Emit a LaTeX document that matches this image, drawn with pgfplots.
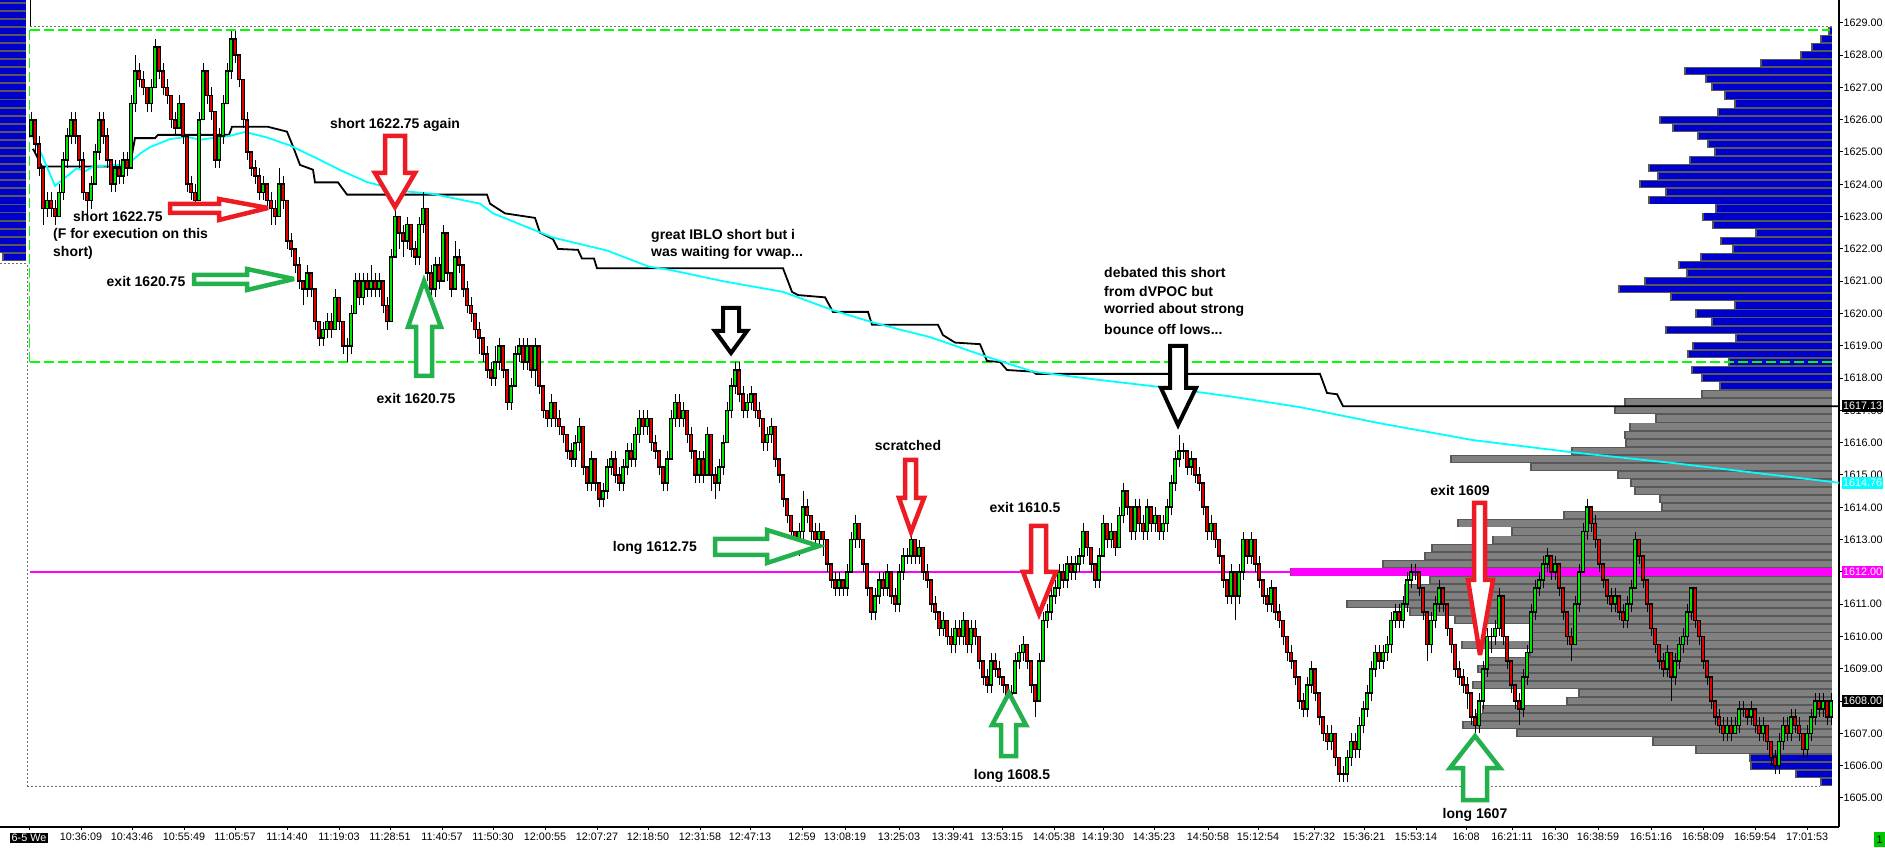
\documentclass[border=0pt]{standalone}
\usepackage{pgfplots}
\pgfplotsset{compat=1.18}
\usepackage{pgfplotstable}
\usepackage{fontspec}
\setmainfont{Liberation Sans}
\definecolor{upg}{RGB}{0,230,0}
\definecolor{dnr}{RGB}{225,0,0}
\definecolor{pblue}{RGB}{0,0,204}
\definecolor{pgray}{RGB}{128,128,128}
\definecolor{pedge}{RGB}{88,88,88}
\definecolor{vwap}{RGB}{0,255,255}
\definecolor{mag}{RGB}{255,0,255}
\definecolor{lgreen}{RGB}{0,255,0}
\definecolor{ared}{RGB}{237,28,36}
\definecolor{agreen}{RGB}{34,177,76}
\definecolor{dotg}{RGB}{110,110,110}
\definecolor{boxg}{RGB}{0,200,0}
\newcommand{\annot}{\bfseries\fontsize{14}{16}\selectfont}
\newcommand{\tickf}{\fontsize{10.8}{12}\selectfont}

\pgfplotstableread{
x o c h l
31 1625.5 1626.0 1626.25 1625.5
35 1626.0 1625.25 1626.0 1625.0
39 1625.25 1624.5 1625.5 1624.25
43 1624.5 1623.25 1624.5 1622.75
47 1623.25 1623.5 1623.75 1623.0
51 1623.5 1623.25 1623.75 1623.0
55 1623.25 1623.0 1623.5 1622.75
59 1623.0 1623.75 1624.0 1623.0
63 1623.75 1624.75 1625.0 1623.5
67 1624.75 1625.5 1625.75 1624.5
71 1625.5 1626.0 1626.25 1625.25
75 1626.0 1625.5 1626.25 1625.25
79 1625.5 1624.75 1625.5 1624.5
83 1624.75 1623.75 1625.0 1623.5
87 1623.75 1623.5 1623.75 1623.0
91 1623.5 1624.0 1624.25 1623.25
95 1624.0 1625.0 1625.25 1624.0
99 1625.0 1626.0 1626.25 1624.75
103 1626.0 1625.5 1626.25 1625.25
107 1625.5 1624.75 1625.75 1624.5
111 1624.75 1624.0 1624.75 1623.75
115 1624.0 1624.5 1624.75 1623.75
119 1624.5 1624.25 1624.75 1624.0
123 1624.25 1624.75 1625.0 1624.0
127 1624.75 1624.5 1625.0 1624.25
131 1624.5 1626.5 1626.75 1624.5
135 1626.5 1627.5 1628.0 1626.25
139 1627.5 1627.25 1627.75 1627.0
143 1627.25 1627.0 1627.5 1626.75
147 1627.0 1626.5 1627.0 1626.25
151 1626.5 1627.0 1627.25 1626.25
155 1627.0 1628.25 1628.5 1627.0
159 1628.25 1627.5 1628.25 1627.25
163 1627.5 1627.0 1627.75 1626.75
167 1627.0 1626.75 1627.25 1626.5
171 1626.75 1626.0 1626.75 1625.75
175 1626.0 1625.75 1626.25 1625.5
179 1625.75 1626.5 1626.75 1625.75
183 1626.5 1625.5 1626.5 1625.25
187 1625.5 1624.0 1625.5 1623.75
191 1624.0 1623.75 1624.25 1623.5
195 1623.75 1623.5 1624.0 1623.25
199 1623.5 1626.0 1626.25 1623.5
203 1626.0 1627.5 1627.75 1626.0
207 1627.5 1626.75 1627.5 1626.5
211 1626.75 1626.25 1627.0 1626.0
215 1626.25 1624.75 1626.25 1624.5
219 1624.75 1625.5 1625.75 1624.5
223 1625.5 1626.5 1626.75 1625.25
227 1626.5 1627.5 1627.75 1626.5
231 1627.5 1628.5 1628.75 1627.25
235 1628.5 1628.0 1628.75 1627.75
239 1628.0 1627.25 1628.0 1627.0
243 1627.25 1626.0 1627.25 1625.75
247 1626.0 1625.0 1626.25 1624.75
251 1625.0 1624.5 1625.0 1624.25
255 1624.5 1624.25 1624.75 1624.0
259 1624.25 1623.75 1624.5 1623.5
263 1623.75 1624.0 1624.25 1623.5
267 1624.0 1623.5 1624.0 1623.25
271 1623.5 1623.25 1623.75 1622.75
275 1623.25 1623.0 1623.5 1622.75
279 1623.0 1624.0 1624.5 1623.0
283 1624.0 1623.5 1624.25 1623.25
287 1623.5 1622.25 1623.5 1622.0
291 1622.25 1622.0 1622.5 1621.75
295 1622.0 1621.5 1622.0 1621.25
299 1621.5 1621.0 1621.75 1620.75
303 1621.0 1620.75 1621.0 1620.25
307 1620.75 1621.25 1621.5 1620.5
311 1621.25 1620.75 1621.25 1620.5
315 1620.75 1619.75 1620.75 1619.5
319 1619.75 1619.25 1619.75 1619.0
323 1619.25 1619.5 1619.75 1619.0
327 1619.5 1619.75 1620.0 1619.25
331 1619.75 1619.5 1620.0 1619.25
335 1619.5 1620.5 1620.75 1619.5
339 1620.5 1619.75 1620.5 1619.5
343 1619.75 1619.0 1619.75 1618.75
347 1619.0 1619.0 1619.25 1618.5
351 1619.0 1620.0 1620.25 1618.75
355 1620.0 1621.0 1621.25 1620.0
359 1621.0 1620.5 1621.25 1620.25
363 1620.5 1621.0 1621.25 1620.25
367 1621.0 1620.75 1621.25 1620.5
371 1620.75 1621.0 1621.5 1620.5
375 1621.0 1620.75 1621.25 1620.5
379 1620.75 1621.0 1621.25 1620.5
383 1621.0 1620.25 1621.0 1620.0
387 1620.25 1619.75 1620.5 1619.5
391 1619.75 1621.75 1622.0 1619.75
395 1621.75 1623.0 1623.25 1621.75
399 1623.0 1622.5 1623.0 1622.0
403 1622.5 1622.25 1622.75 1621.75
407 1622.25 1622.75 1623.0 1622.0
411 1622.75 1622.0 1622.75 1621.75
415 1622.0 1621.75 1622.25 1621.5
419 1621.75 1622.75 1623.0 1621.5
423 1622.75 1623.25 1623.75 1622.5
427 1623.25 1621.25 1623.25 1621.0
431 1621.25 1620.75 1621.5 1620.5
435 1620.75 1621.5 1621.75 1620.5
439 1621.5 1621.0 1621.75 1620.75
443 1621.0 1622.5 1622.75 1621.0
447 1622.5 1621.25 1622.5 1621.0
451 1621.25 1620.75 1621.25 1620.5
455 1620.75 1621.75 1622.25 1620.75
459 1621.75 1621.5 1622.0 1621.25
463 1621.5 1620.75 1621.5 1620.5
467 1620.75 1620.25 1621.0 1620.0
471 1620.25 1620.0 1620.5 1619.75
475 1620.0 1619.5 1620.0 1619.25
479 1619.5 1619.25 1619.75 1618.75
483 1619.25 1618.75 1619.25 1618.5
487 1618.75 1618.25 1619.0 1618.0
491 1618.25 1618.0 1618.5 1617.75
495 1618.0 1618.5 1619.0 1617.75
499 1618.5 1619.0 1619.25 1618.25
503 1619.0 1618.25 1619.0 1618.0
507 1618.25 1617.25 1618.25 1617.0
511 1617.25 1617.75 1618.0 1617.0
515 1617.75 1618.75 1619.0 1617.75
519 1618.75 1619.0 1619.25 1618.5
523 1619.0 1618.5 1619.25 1618.25
527 1618.5 1619.0 1619.25 1618.25
531 1619.0 1618.25 1619.0 1618.0
535 1618.25 1619.0 1619.25 1617.75
539 1619.0 1617.75 1619.0 1617.5
543 1617.75 1617.0 1617.75 1616.75
547 1617.0 1616.75 1617.0 1616.5
551 1616.75 1617.25 1617.5 1616.5
555 1617.25 1616.75 1617.25 1616.5
559 1616.75 1616.5 1617.0 1616.25
563 1616.5 1616.25 1616.5 1616.0
567 1616.25 1615.75 1616.25 1615.5
571 1615.75 1615.5 1616.0 1615.25
575 1615.5 1616.0 1616.25 1615.25
579 1616.0 1616.5 1616.75 1615.75
583 1616.5 1615.25 1616.5 1615.0
587 1615.25 1614.75 1615.25 1614.5
591 1614.75 1615.5 1615.75 1614.5
595 1615.5 1614.75 1615.5 1614.5
599 1614.75 1614.25 1614.75 1614.0
603 1614.25 1614.5 1614.75 1614.0
607 1614.5 1615.25 1615.5 1614.25
611 1615.25 1615.5 1615.75 1615.0
615 1615.5 1615.0 1615.75 1614.75
619 1615.0 1614.75 1615.25 1614.5
623 1614.75 1615.25 1615.5 1614.5
627 1615.25 1615.75 1616.0 1615.0
631 1615.75 1615.5 1616.0 1615.25
635 1615.5 1616.25 1616.5 1615.25
639 1616.25 1616.75 1617.0 1616.0
643 1616.75 1616.5 1617.0 1616.25
647 1616.5 1616.75 1617.0 1616.25
651 1616.75 1616.0 1616.75 1615.75
655 1616.0 1615.75 1616.25 1615.5
659 1615.75 1615.25 1615.75 1615.0
663 1615.25 1614.75 1615.25 1614.5
667 1614.75 1615.5 1615.75 1614.5
671 1615.5 1616.75 1617.0 1615.5
675 1616.75 1617.25 1617.5 1616.5
679 1617.25 1616.75 1617.5 1616.5
683 1616.75 1617.0 1617.25 1616.5
687 1617.0 1616.25 1617.0 1616.0
691 1616.25 1615.75 1616.5 1615.5
695 1615.75 1615.0 1615.75 1614.75
699 1615.0 1615.5 1615.75 1614.75
703 1615.5 1615.0 1615.75 1614.75
707 1615.0 1616.25 1616.5 1615.0
711 1616.25 1615.0 1616.25 1614.5
715 1615.0 1614.75 1615.25 1614.25
719 1614.75 1615.25 1615.5 1614.5
723 1615.25 1616.0 1616.25 1615.0
727 1616.0 1617.0 1617.25 1616.0
731 1617.0 1617.75 1618.0 1616.75
735 1617.75 1618.25 1618.5 1617.5
739 1618.25 1617.5 1618.5 1617.25
743 1617.5 1617.0 1617.75 1616.75
747 1617.0 1617.25 1617.5 1616.75
751 1617.25 1617.5 1617.75 1617.0
755 1617.5 1617.0 1617.5 1616.75
759 1617.0 1616.75 1617.25 1616.5
763 1616.75 1616.0 1616.75 1615.75
767 1616.0 1616.25 1616.5 1615.75
771 1616.25 1616.5 1616.75 1616.0
775 1616.5 1615.5 1616.5 1615.25
779 1615.5 1615.0 1615.5 1614.75
783 1615.0 1614.25 1615.0 1614.0
787 1614.25 1613.75 1614.25 1613.5
791 1613.75 1613.25 1613.75 1613.0
795 1613.25 1612.75 1613.25 1612.5
799 1612.75 1613.25 1613.5 1612.5
803 1613.25 1614.0 1614.5 1613.0
807 1614.0 1613.75 1614.25 1613.5
811 1613.75 1613.25 1613.75 1613.0
815 1613.25 1613.0 1613.5 1612.75
819 1613.0 1613.25 1613.5 1612.75
823 1613.25 1613.0 1613.25 1612.5
827 1613.0 1612.25 1613.0 1612.0
831 1612.25 1611.75 1612.25 1611.5
835 1611.75 1611.5 1612.0 1611.25
839 1611.5 1611.75 1612.0 1611.25
843 1611.75 1611.5 1611.75 1611.25
847 1611.5 1612.0 1612.25 1611.25
851 1612.0 1613.0 1613.25 1612.0
855 1613.0 1613.5 1613.75 1612.75
859 1613.5 1613.0 1613.5 1612.75
863 1613.0 1612.25 1613.0 1612.0
867 1612.25 1611.5 1612.25 1611.25
871 1611.5 1610.75 1611.5 1610.5
875 1610.75 1611.25 1611.5 1610.5
879 1611.25 1611.75 1612.0 1611.0
883 1611.75 1611.5 1612.0 1611.25
887 1611.5 1612.0 1612.25 1611.25
891 1612.0 1611.25 1612.0 1611.0
895 1611.25 1611.0 1611.5 1610.75
899 1611.0 1612.0 1612.25 1610.75
903 1612.0 1612.5 1612.75 1611.75
907 1612.5 1612.5 1612.75 1612.25
911 1612.5 1613.0 1613.25 1612.25
915 1613.0 1612.5 1613.0 1612.25
919 1612.5 1612.75 1613.0 1612.25
923 1612.75 1612.0 1612.75 1611.75
927 1612.0 1611.75 1612.25 1611.5
931 1611.75 1611.0 1611.75 1610.75
935 1611.0 1610.75 1611.25 1610.5
939 1610.75 1610.25 1610.75 1610.0
943 1610.25 1610.5 1610.75 1610.0
947 1610.5 1610.0 1610.5 1609.75
951 1610.0 1609.75 1610.25 1609.5
955 1609.75 1610.25 1610.5 1609.5
959 1610.25 1610.0 1610.5 1609.75
963 1610.0 1610.5 1610.75 1609.75
967 1610.5 1609.75 1610.5 1609.5
971 1609.75 1610.25 1610.5 1609.5
975 1610.25 1610.0 1610.5 1609.75
979 1610.0 1609.25 1610.0 1609.0
983 1609.25 1608.75 1609.25 1608.5
987 1608.75 1608.5 1609.0 1608.25
991 1608.5 1609.25 1609.5 1608.25
995 1609.25 1609.0 1609.5 1608.75
999 1609.0 1608.75 1609.25 1608.5
1003 1608.75 1608.5 1608.75 1608.25
1007 1608.5 1608.0 1608.5 1607.75
1011 1608.0 1608.25 1608.5 1607.75
1015 1608.25 1609.25 1609.5 1608.25
1019 1609.25 1609.5 1609.75 1609.0
1023 1609.5 1609.75 1610.0 1609.25
1027 1609.75 1609.25 1609.75 1609.0
1031 1609.25 1608.5 1609.25 1608.25
1035 1608.5 1608.0 1608.5 1607.5
1039 1608.0 1609.25 1609.5 1608.0
1043 1609.25 1610.5 1610.75 1609.25
1047 1610.5 1610.75 1611.0 1610.25
1051 1610.75 1611.25 1611.5 1610.5
1055 1611.25 1611.5 1611.75 1611.0
1059 1611.5 1612.0 1612.25 1611.25
1063 1612.0 1611.75 1612.25 1611.5
1067 1611.75 1612.25 1612.5 1611.5
1071 1612.25 1612.0 1612.5 1611.75
1075 1612.0 1612.25 1612.5 1611.75
1079 1612.25 1612.5 1612.75 1612.0
1083 1612.5 1613.25 1613.5 1612.25
1087 1613.25 1612.75 1613.25 1612.5
1091 1612.75 1612.25 1612.75 1612.0
1095 1612.25 1611.75 1612.25 1611.5
1099 1611.75 1612.5 1612.75 1611.5
1103 1612.5 1613.5 1613.75 1612.5
1107 1613.5 1613.0 1613.5 1612.75
1111 1613.0 1613.25 1613.5 1612.75
1115 1613.25 1612.75 1613.25 1612.5
1119 1612.75 1613.75 1614.0 1612.75
1123 1613.75 1614.5 1614.75 1613.5
1127 1614.5 1614.0 1614.5 1613.75
1131 1614.0 1613.25 1614.0 1613.0
1135 1613.25 1614.0 1614.25 1613.0
1139 1614.0 1613.5 1614.25 1613.25
1143 1613.5 1613.25 1613.75 1613.0
1147 1613.25 1614.0 1614.25 1613.0
1151 1614.0 1613.5 1614.0 1613.25
1155 1613.5 1613.75 1614.0 1613.25
1159 1613.75 1613.25 1613.75 1613.0
1163 1613.25 1613.5 1613.75 1613.0
1167 1613.5 1614.0 1614.25 1613.25
1171 1614.0 1614.75 1615.0 1613.75
1175 1614.75 1615.5 1615.75 1614.5
1179 1615.5 1615.75 1616.25 1615.25
1183 1615.75 1615.75 1616.0 1615.5
1187 1615.75 1615.25 1615.75 1615.0
1191 1615.25 1615.5 1615.75 1615.0
1195 1615.5 1615.0 1615.5 1614.75
1199 1615.0 1614.75 1615.25 1614.5
1203 1614.75 1614.0 1614.75 1613.75
1207 1614.0 1613.25 1614.0 1613.0
1211 1613.25 1613.5 1613.75 1613.0
1215 1613.5 1613.0 1613.5 1612.75
1219 1613.0 1612.5 1613.0 1612.25
1223 1612.5 1611.75 1612.5 1611.5
1227 1611.75 1611.25 1611.75 1611.0
1231 1611.25 1612.0 1612.25 1611.0
1235 1612.0 1611.25 1612.0 1610.5
1239 1611.25 1612.0 1612.25 1611.0
1243 1612.0 1613.0 1613.25 1611.75
1247 1613.0 1612.5 1613.0 1612.25
1251 1612.5 1613.0 1613.25 1612.25
1255 1613.0 1612.25 1613.0 1612.0
1259 1612.25 1611.75 1612.5 1611.5
1263 1611.75 1611.25 1611.75 1611.0
1267 1611.25 1611.0 1611.5 1610.75
1271 1611.0 1611.5 1611.75 1610.75
1275 1611.5 1610.75 1611.5 1610.5
1279 1610.75 1610.5 1611.0 1610.25
1283 1610.5 1610.0 1610.5 1609.75
1287 1610.0 1609.5 1610.0 1609.25
1291 1609.5 1609.25 1609.75 1609.0
1295 1609.25 1608.75 1609.25 1608.5
1299 1608.75 1608.0 1608.75 1607.75
1303 1608.0 1607.75 1608.25 1607.5
1307 1607.75 1608.5 1608.75 1607.5
1311 1608.5 1609.0 1609.25 1608.25
1315 1609.0 1608.25 1609.0 1608.0
1319 1608.25 1607.5 1608.25 1607.25
1323 1607.5 1607.0 1607.5 1606.75
1327 1607.0 1606.75 1607.25 1606.5
1331 1606.75 1607.0 1607.25 1606.5
1335 1607.0 1606.25 1607.0 1606.0
1339 1606.25 1605.75 1606.25 1605.5
1343 1605.75 1605.75 1606.0 1605.5
1347 1605.75 1606.25 1606.5 1605.5
1351 1606.25 1606.75 1607.0 1606.0
1355 1606.75 1606.5 1607.0 1606.25
1359 1606.5 1607.25 1607.5 1606.25
1363 1607.25 1607.75 1608.0 1607.0
1367 1607.75 1608.25 1608.5 1607.5
1371 1608.25 1609.0 1609.25 1608.0
1375 1609.0 1609.5 1609.75 1608.75
1379 1609.5 1609.25 1609.75 1609.0
1383 1609.25 1609.5 1609.75 1609.0
1387 1609.5 1609.75 1610.0 1609.25
1391 1609.75 1610.5 1610.75 1609.5
1395 1610.5 1610.75 1611.0 1610.25
1399 1610.75 1610.5 1611.0 1610.25
1403 1610.5 1611.0 1611.25 1610.25
1407 1611.0 1611.75 1612.0 1610.75
1411 1611.75 1612.0 1612.25 1611.5
1415 1612.0 1612.0 1612.25 1611.75
1419 1612.0 1611.5 1612.0 1611.25
1423 1611.5 1610.75 1611.5 1610.5
1427 1610.75 1609.75 1610.75 1609.25
1431 1609.75 1610.5 1610.75 1609.5
1435 1610.5 1611.0 1611.25 1610.25
1439 1611.0 1611.5 1611.75 1610.75
1443 1611.5 1611.0 1611.5 1610.75
1447 1611.0 1610.25 1611.0 1610.0
1451 1610.25 1609.75 1610.25 1609.5
1455 1609.75 1609.0 1609.75 1608.75
1459 1609.0 1608.75 1609.25 1608.5
1463 1608.75 1608.5 1609.0 1608.25
1467 1608.5 1608.25 1608.75 1607.75
1471 1608.25 1607.5 1608.25 1607.25
1475 1607.5 1607.25 1607.75 1607.0
1479 1607.25 1608.0 1608.25 1607.0
1483 1608.0 1609.0 1609.25 1607.75
1487 1609.0 1610.0 1610.25 1608.75
1491 1610.0 1610.0 1610.25 1609.5
1495 1610.0 1610.25 1610.5 1609.75
1499 1610.25 1611.25 1611.5 1610.0
1503 1611.25 1610.0 1611.25 1609.75
1507 1610.0 1609.25 1610.0 1609.0
1511 1609.25 1608.5 1609.25 1608.25
1515 1608.5 1608.0 1608.5 1607.75
1519 1608.0 1607.75 1608.25 1607.25
1523 1607.75 1608.75 1609.0 1607.5
1527 1608.75 1609.5 1609.75 1608.5
1531 1609.5 1610.75 1611.0 1609.5
1535 1610.75 1611.5 1611.75 1610.5
1539 1611.5 1611.75 1612.0 1611.25
1543 1611.75 1612.25 1612.5 1611.5
1547 1612.25 1612.5 1612.75 1612.0
1551 1612.5 1612.0 1612.5 1611.75
1555 1612.0 1612.25 1612.5 1611.75
1559 1612.25 1611.5 1612.25 1611.25
1563 1611.5 1610.75 1611.5 1610.5
1567 1610.75 1610.0 1610.75 1609.75
1571 1610.0 1609.75 1610.25 1609.25
1575 1609.75 1611.0 1611.25 1609.75
1579 1611.0 1612.0 1612.25 1610.75
1583 1612.0 1613.25 1613.5 1612.0
1587 1613.25 1614.0 1614.25 1613.0
1591 1614.0 1613.5 1614.0 1613.25
1595 1613.5 1613.0 1613.75 1612.75
1599 1613.0 1612.25 1613.0 1612.0
1603 1612.25 1611.75 1612.25 1611.5
1607 1611.75 1611.25 1611.75 1611.0
1611 1611.25 1611.0 1611.5 1610.75
1615 1611.0 1611.25 1611.5 1610.75
1619 1611.25 1610.75 1611.25 1610.5
1623 1610.75 1610.5 1611.0 1610.25
1627 1610.5 1611.0 1611.25 1610.25
1631 1611.0 1611.5 1611.75 1610.75
1635 1611.5 1613.0 1613.25 1611.5
1639 1613.0 1612.5 1613.0 1612.25
1643 1612.5 1611.75 1612.5 1611.5
1647 1611.75 1611.0 1611.75 1610.75
1651 1611.0 1610.25 1611.0 1610.0
1655 1610.25 1609.75 1610.25 1609.5
1659 1609.75 1609.25 1609.75 1609.0
1663 1609.25 1609.0 1609.5 1608.75
1667 1609.0 1609.5 1609.75 1608.75
1671 1609.5 1608.75 1609.5 1608.0
1675 1608.75 1609.25 1609.5 1608.5
1679 1609.25 1609.75 1610.0 1609.0
1683 1609.75 1610.0 1610.25 1609.5
1687 1610.0 1610.75 1611.0 1609.75
1691 1610.75 1611.5 1611.5 1610.5
1695 1611.5 1610.5 1611.5 1610.25
1699 1610.5 1610.0 1610.5 1609.75
1703 1610.0 1609.25 1610.0 1609.0
1707 1609.25 1608.75 1609.25 1608.5
1711 1608.75 1608.0 1608.75 1607.75
1715 1608.0 1607.5 1608.0 1607.25
1719 1607.5 1607.25 1607.75 1607.0
1723 1607.25 1607.0 1607.5 1606.75
1727 1607.0 1607.25 1607.5 1606.75
1731 1607.25 1607.0 1607.5 1606.75
1735 1607.0 1607.25 1607.5 1607.0
1739 1607.25 1607.75 1608.0 1607.0
1743 1607.75 1607.75 1608.0 1607.5
1747 1607.75 1607.5 1607.75 1607.25
1751 1607.5 1607.75 1608.0 1607.25
1755 1607.75 1607.25 1607.75 1607.0
1759 1607.25 1607.0 1607.5 1606.75
1763 1607.0 1607.25 1607.5 1606.75
1767 1607.25 1606.75 1607.25 1606.5
1771 1606.75 1606.25 1606.75 1606.0
1775 1606.25 1606.0 1606.5 1605.75
1779 1606.0 1606.75 1607.0 1605.75
1783 1606.75 1607.25 1607.5 1606.5
1787 1607.25 1607.0 1607.5 1606.75
1791 1607.0 1607.5 1607.75 1606.75
1795 1607.5 1607.25 1607.75 1607.0
1799 1607.25 1607.0 1607.5 1606.75
1803 1607.0 1606.5 1607.0 1606.25
1807 1606.5 1607.0 1607.25 1606.25
1811 1607.0 1607.5 1607.75 1606.75
1815 1607.5 1608.0 1608.25 1607.25
1819 1608.0 1607.75 1608.25 1607.5
1823 1607.75 1608.0 1608.25 1607.5
1827 1608.0 1607.5 1608.0 1607.25
1831 1607.5 1608.0 1608.25 1607.25
}\candles

\pgfplotstableread{
p l
1628.75 1829
1628.5 1821
1628.25 1812
1628.0 1801
1627.75 1761
1627.5 1685
1627.25 1706
1627.0 1712
1626.75 1725
1626.5 1735
1626.25 1718
1626.0 1660
1625.75 1673
1625.5 1698
1625.25 1708
1625.0 1715
1624.75 1690
1624.5 1649
1624.25 1658
1624.0 1640
1623.75 1666
1623.5 1649
1623.25 1716
1623.0 1703
1622.75 1713
1622.5 1756
1622.25 1721
1622.0 1733
1621.75 1701
1621.5 1679
1621.25 1687
1621.0 1645
1620.75 1619
1620.5 1671
1620.25 1735
1620.0 1696
1619.75 1712
1619.5 1666
1619.25 1736
1619.0 1693
1618.75 1688
1618.5 1729
1618.25 1692
1618.0 1702
1617.75 1720
1606.25 1750
1606.0 1751
1605.75 1796
1605.5 1821
}\blueprof

\pgfplotstableread{
p l
1617.5 1702
1617.25 1625
1617.0 1615
1616.75 1656
1616.5 1630
1616.25 1625
1616.0 1626
1615.75 1572
1615.5 1451
1615.25 1531
1615.0 1618
1614.75 1631
1614.5 1635
1614.25 1660
1614.0 1662
1613.75 1564
1613.5 1458
1613.25 1512
1613.0 1493
1612.75 1432
1612.5 1425
1612.25 1383
1612.0 1291
1611.75 1430
1611.5 1405
1611.25 1405
1611.0 1347
1610.75 1410
1610.5 1455
1610.25 1530
1610.0 1530
1609.75 1462
1609.5 1530
1609.25 1487
1609.0 1478
1608.75 1483
1608.5 1473
1608.25 1579
1608.0 1567
1607.75 1483
1607.5 1476
1607.25 1463
1607.0 1517
1606.75 1653
1606.5 1696
}\grayprof

\pgfplotstableread{
p l
1629.75 -10
1629.5 -10
1629.25 -10
1629.0 -10
1628.75 -10
1628.5 -10
1628.25 -10
1628.0 -10
1627.75 -10
1627.5 -10
1627.25 -10
1627.0 -10
1626.75 -10
1626.5 -10
1626.25 -10
1626.0 -10
1625.75 -10
1625.5 -10
1625.25 -10
1625.0 -10
1624.75 -10
1624.5 -10
1624.25 -10
1624.0 -10
1623.75 -10
1623.5 -10
1623.25 -10
1623.0 -10
1622.75 -10
1622.5 -10
1622.25 -10
1622.0 -10
1621.75 3
}\leftprof

\begin{document}
\begin{tikzpicture}
\begin{axis}[
  at={(0,0)}, anchor=south west,
  width=1839pt, height=827pt, scale only axis,
  xmin=0, xmax=1839, ymin=1604.102, ymax=1629.706,
  axis x line*=bottom, axis y line*=right,
  axis line style={line width=1.5pt, black, -},
  tick style={black, line width=1pt},
  major tick length=3.5pt, tick align=outside,
  ytick={1605,1606,...,1629},
  yticklabel style={font=\tickf, anchor=west, inner sep=1pt,
    /pgf/number format/.cd, fixed, fixed zerofill, precision=2, 1000 sep={}, assume math mode=true},
  xtick={29,81,132,184,235,287,339,390,442,493,545,597,648,700,750,802,845,899,953,1002,1054,1103,1154,1208,1258,1314,1364,1416,1466,1512,1555,1598,1651,1703,1755,1807},
  xticklabels={{\setlength{\fboxsep}{1.5pt}\colorbox{black}{\color{white}6-5 We}},10:36:09,10:43:46,10:55:49,11:05:57,11:14:40,11:19:03,11:28:51,11:40:57,11:50:30,12:00:55,12:07:27,12:18:50,12:31:58,12:47:13,12:59,13:08:19,13:25:03,13:39:41,13:53:15,14:05:38,14:19:30,14:35:23,14:50:58,15:12:54,15:27:32,15:36:21,15:53:14,16:08,16:21:11,16:30,16:38:59,16:51:16,16:58:09,16:59:54,17:01:53},
  xticklabel style={font=\tickf, inner sep=2pt},
  every axis plot/.append style={mark=none, forget plot},
]
% ---- volume profiles (outline then fill), drawn as horizontal segments
\addplot[pedge, line width=8.07pt, quiver={u={1832.8-\thisrow{l}}, v=0}] table[x expr={\thisrow{l}-0.8}, y=p] {\grayprof};
\addplot[pgray, line width=6.2pt, quiver={u={1831.2-\thisrow{l}}, v=0}] table[x expr={\thisrow{l}+0.8}, y=p] {\grayprof};
\addplot[pedge, line width=8.07pt, quiver={u={1832.8-\thisrow{l}}, v=0}] table[x expr={\thisrow{l}-0.8}, y=p] {\blueprof};
\addplot[pblue, line width=6.2pt, quiver={u={1831.2-\thisrow{l}}, v=0}] table[x expr={\thisrow{l}+0.8}, y=p] {\blueprof};
\addplot[pedge, line width=8.07pt, quiver={u={26.8-\thisrow{l}}, v=0}] table[x expr={\thisrow{l}-0.8}, y=p] {\leftprof};
\addplot[pblue, line width=6.2pt, quiver={u={25.2-\thisrow{l}}, v=0}] table[x expr={\thisrow{l}+0.8}, y=p] {\leftprof};
% ---- magenta POC line
\addplot[mag, line width=2.5pt] coordinates {(30,1612) (1291,1612)};
\addplot[mag, line width=8pt] coordinates {(1291,1612) (1832,1612)};
% ---- reference lines
\addplot[dotg, line width=1pt, dash pattern=on 2pt off 2pt] coordinates {(30,1628.90) (1832,1628.90)};
\addplot[dotg, line width=1pt, dash pattern=on 2pt off 2pt] coordinates {(27,1605.37) (1820,1605.37)};
\addplot[dotg, line width=1pt, dash pattern=on 2pt off 2pt] coordinates {(27,1621.5) (27,1605.37)};
\addplot[dotg, line width=1pt, dash pattern=on 2pt off 2pt] coordinates {(0,1621.55) (26,1621.55)};
\addplot[lgreen, line width=1.3pt, dash pattern=on 10pt off 4pt] coordinates {(30,1628.78) (1830,1628.78)};
\addplot[lgreen, line width=1.3pt, dash pattern=on 10pt off 4pt] coordinates {(30,1618.5) (1836,1618.5)};
\addplot[lgreen, line width=1.3pt, dash pattern=on 10pt off 4pt] coordinates {(29.5,1628.78) (29.5,1618.5)};
\addplot[black, line width=1.2pt] coordinates {(30.5,1629.706) (30.5,1628.9)};
% ---- developing POC (black) and VWAP (cyan)
\addplot[black, line width=1.8pt] coordinates {
(33,1625.1) (42,1624.55) (128,1624.55) (131,1624.75) (135,1625.43) (155,1625.43) (158,1625.53)
(229,1625.53) (232,1625.78) (268,1625.78) (287,1625.63) (293,1625.17) (300,1624.6) (313,1624.45)
(315,1624.06) (338,1624.06) (347,1623.68) (487,1623.68) (490,1623.4) (505,1623.1) (535,1622.96)
(540,1622.5) (553,1622.3) (558,1622.0) (578,1621.97) (582,1621.7) (594,1621.7) (597,1621.4)
(783,1621.4) (792,1620.67) (798,1620.57) (825,1620.5) (833,1620.05) (868,1620.05) (872,1619.65)
(938,1619.65) (943,1619.33) (955,1619.1) (980,1619.05) (987,1618.53) (1000,1618.5) (1007,1618.25)
(1033,1618.2) (1036,1618.13) (1320,1618.13) (1327,1617.54) (1337,1617.5) (1343,1617.13) (1839,1617.13)};
\addplot[vwap, line width=1.8pt] coordinates {
(32,1625.5) (42,1624.9) (55,1623.95) (65,1624.2) (77,1624.5) (85,1624.4) (93,1624.55) (128,1624.62)
(140,1624.95) (150,1625.15) (170,1625.4) (187,1625.47) (200,1625.38) (230,1625.5) (245,1625.62)
(267,1625.45) (290,1625.2) (317,1624.8) (343,1624.4) (367,1624.07) (400,1623.8) (433,1623.7)
(480,1623.4) (493,1623.1) (553,1622.35) (607,1621.95) (649,1621.45) (670,1621.35) (723,1621.0)
(783,1620.67) (833,1620.1) (870,1619.75) (900,1619.5) (930,1619.27) (983,1618.7) (1033,1618.2)
(1100,1617.94) (1167,1617.7) (1233,1617.42) (1300,1617.1) (1380,1616.6) (1473,1616.08)
(1573,1615.7) (1673,1615.37) (1839,1614.76)};
% ---- candles: wicks, body outline, body fill (vertical segments)
\addplot[black, line width=1pt, quiver={u=0, v={\thisrow{h}-\thisrow{l}}}] table[x=x, y=l] {\candles};
\addplot[black, line width=3.4pt, quiver={u=0, v={abs(\thisrow{c}-\thisrow{o})+0.05}}] table[x=x, y expr={min(\thisrow{o},\thisrow{c})-0.025}] {\candles};
\addplot[upg, line width=1.4pt, restrict expr to domain={\thisrow{c}-\thisrow{o}}{0.1:100},
  quiver={u=0, v={\thisrow{c}-\thisrow{o}-0.05}}] table[x=x, y expr={\thisrow{o}+0.025}] {\candles};
\addplot[dnr, line width=1.4pt, restrict expr to domain={\thisrow{c}-\thisrow{o}}{-100:-0.1},
  quiver={u=0, v={\thisrow{o}-\thisrow{c}-0.05}}] table[x=x, y expr={\thisrow{c}+0.025}] {\candles};
\end{axis}

% ---- annotations in image pixel coordinates
\begin{scope}[x=1pt, y=-1pt, shift={(0pt,827pt)}, line join=miter, miter limit=4]
\node[fill=black, text=white, font=\tickf, inner sep=0.8pt, anchor=west, minimum height=12pt] at (1842,406) {1617.13};
\node[fill=vwap, text=white, font=\tickf, inner sep=0.8pt, anchor=west, minimum height=12pt] at (1842,483) {1614.76};
\node[fill=mag, text=white, font=\tickf, inner sep=0.8pt, anchor=west, minimum height=12pt] at (1842,572) {1612.00};
\node[fill=black, text=white, font=\tickf, inner sep=0.8pt, anchor=west, minimum height=12pt] at (1842,701) {1608.00};
\node[fill=boxg, text=black, font=\tickf, inner sep=0pt, minimum width=11pt, minimum height=15pt] at (1879.5,839.5) {1};
\draw[ared, line width=4.5pt, fill=white] (385,136)--(405,136)--(405,173)--(415,173)--(395,207)--(375,173)--(385,173)--cycle;
\draw[ared, line width=4.5pt, fill=white] (170,204)--(219,204)--(219,199)--(268,208)--(219,220)--(219,213)--(170,213)--cycle;
\draw[agreen, line width=4.5pt, fill=white] (194,275)--(247,275)--(247,269)--(294,279)--(247,290)--(247,284)--(194,284)--cycle;
\draw[agreen, line width=4.5pt, fill=white] (416,376)--(416,327)--(408,327)--(424,281)--(441,327)--(432,327)--(432,376)--cycle;
\draw[black, line width=4pt, fill=white] (723,308)--(739,308)--(739,331)--(747,331)--(731,353)--(715,331)--(723,331)--cycle;
\draw[agreen, line width=4.5pt, fill=white] (715,539)--(767,539)--(767,530)--(819,546)--(767,563)--(767,555)--(715,555)--cycle;
\draw[ared, line width=4.5pt, fill=white] (905,460)--(916,460)--(916,498)--(924,498)--(911,532)--(899,498)--(905,498)--cycle;
\draw[ared, line width=4.5pt, fill=white] (1031,526)--(1046,526)--(1046,572)--(1056,572)--(1039,614)--(1023,572)--(1031,572)--cycle;
\draw[agreen, line width=4.5pt, fill=white] (1001,756)--(1001,725)--(992,725)--(1009,693)--(1026,725)--(1016,725)--(1016,756)--cycle;
\draw[black, line width=4pt, fill=white] (1170,346)--(1186,346)--(1186,388)--(1196,388)--(1178,425)--(1161,388)--(1170,388)--cycle;
\draw[ared, line width=4.5pt, fill=white] (1474,503)--(1485,503)--(1485,580)--(1493,580)--(1480,655)--(1468,580)--(1474,580)--cycle;
\draw[agreen, line width=4.5pt, fill=white] (1463,800)--(1463,768)--(1450,768)--(1475,736)--(1500,768)--(1487,768)--(1487,800)--cycle;
\begin{scope}[every node/.style={font=\annot, text=black, inner sep=0pt}]
\node[anchor=base] at (395,129) {short 1622.75 again};
\node[anchor=base west] at (73,222) {short 1622.75};
\node[anchor=base west] at (53,239) {(F for execution on this};
\node[anchor=base west] at (53,257) {short)};
\node[anchor=base] at (146,287) {exit 1620.75};
\node[anchor=base] at (416,404) {exit 1620.75};
\node[anchor=base west] at (651,240) {great IBLO short but i};
\node[anchor=base west] at (651,257) {was waiting for vwap...};
\node[anchor=base] at (655,552) {long 1612.75};
\node[anchor=base] at (908,451) {scratched};
\node[anchor=base] at (1025,513) {exit 1610.5};
\node[anchor=base] at (1012,779) {long 1608.5};
\node[anchor=base west] at (1104,278) {debated this short};
\node[anchor=base west] at (1104,297) {from dVPOC but};
\node[anchor=base west] at (1104,314) {worried about strong};
\node[anchor=base west] at (1104,335) {bounce off lows...};
\node[anchor=base] at (1460,496) {exit 1609};
\node[anchor=base] at (1475,818) {long 1607};
\end{scope}
\end{scope}
\pgfresetboundingbox
\path[use as bounding box] (0,-20pt) rectangle (1885pt,827pt);
\end{tikzpicture}
\end{document}
